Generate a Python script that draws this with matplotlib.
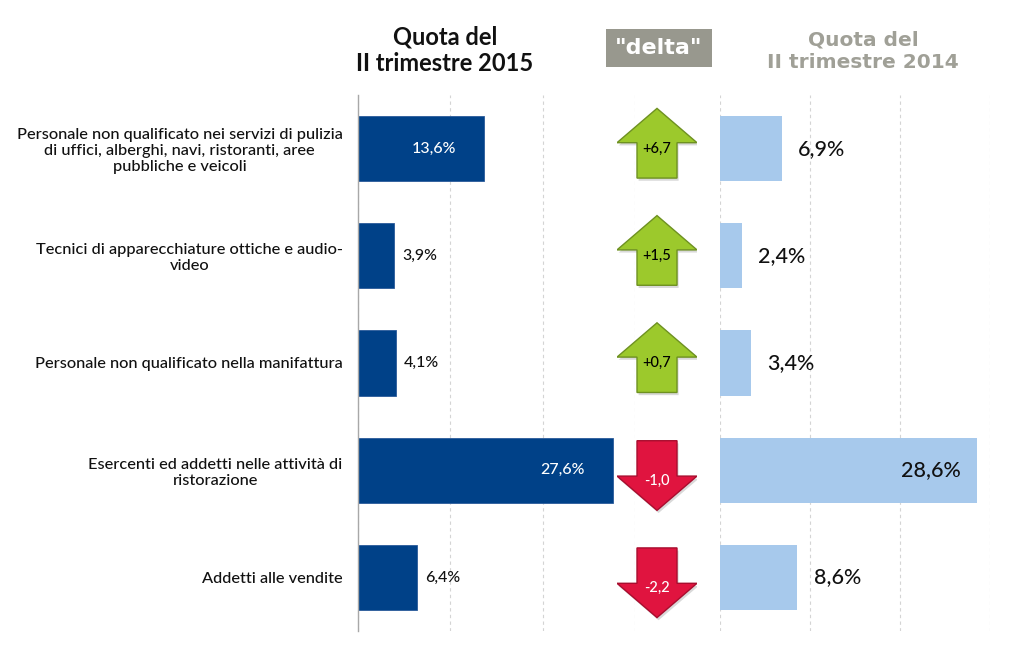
import matplotlib
matplotlib.use("Agg")
from matplotlib import pyplot as plt
from matplotlib.patches import Polygon

# dati
categorie = [
    "Personale non qualificato nei servizi di pulizia\ndi uffici, alberghi, navi, ristoranti, aree\npubbliche e veicoli",
    "Tecnici di apparecchiature ottiche e audio-\nvideo",
    "Personale non qualificato nella manifattura",
    "Esercenti ed addetti nelle attività di\nristorazione",
    "Addetti alle vendite",
]
quota_2015 = [13.6, 3.9, 4.1, 27.6, 6.4]
quota_2014 = [6.9, 2.4, 3.4, 28.6, 8.6]
titolo_2015 = "Quota del\nII trimestre 2015"
titolo_2014 = "Quota del\nII trimestre 2014"
titolo_delta = '"delta"'

BLU = "#004188"
AZZURRO = "#a7c9ec"
VERDE = "#9cc92c"
ROSSO = "#e0143f"
GRIGIO = "#98988e"
CAL = ["Lato", "DejaVu Sans"]


def fmt(v, segno=False):
    s = f"{v:+.1f}" if segno else f"{v:.1f}"
    return s.replace(".", ",")


W, H = 1016, 666
fig = plt.figure(figsize=(W / 100, H / 100), dpi=100)

y_top, y_bot = 95, 631
b = (H - y_bot) / H
h = (y_bot - y_top) / H
ax1 = fig.add_axes([358 / W, b, (635 - 358) / W, h])
ax2 = fig.add_axes([720 / W, b, (990 - 720) / W, h])
axm = fig.add_axes([617 / W, b, (697 - 617) / W, h])

pos = list(range(len(categorie)))

for ax in (ax1, ax2):
    ax.set_xlim(0, 30)
    ax.set_ylim(len(categorie) - 0.5, -0.5)
    ax.set_xticks([0, 10, 20, 30])
    ax.grid(axis="x", color="#d4d4d4", linestyle=(0, (3, 3)), linewidth=0.8)
    ax.set_axisbelow(True)
    for s in ax.spines.values():
        s.set_visible(False)
    ax.tick_params(axis="x", length=0, labelbottom=False)

ax1.spines["left"].set_visible(True)
ax1.spines["left"].set_color("#a8a8a8")
ax1.spines["left"].set_linewidth(1.0)

# pannello sinistro: 2015
ax1.barh(pos, quota_2015, height=0.61, color=BLU, edgecolor="#2a5a9a", linewidth=0.6)
ax1.set_yticks(pos)
ax1.set_yticklabels(categorie, fontsize=11.8, family=CAL, weight=500, color="#111111")
ax1.tick_params(axis="y", length=0, pad=11)
for t in ax1.get_yticklabels():
    t.set_multialignment("center")
    t.set_linespacing(1.2)

for i, v in enumerate(quota_2015):
    if v > 10:
        ax1.text(v - 3.0, i, fmt(v) + "%", ha="right", va="center",
                 color="white", fontsize=11.5, family=CAL, weight=500)
    else:
        ax1.text(v + 0.85, i, fmt(v) + "%", ha="left", va="center",
                 color="#111111", fontsize=11.5, family=CAL, weight=500)

# pannello destro: 2014
ax2.barh(pos, quota_2014, height=0.61, color=AZZURRO)
ax2.set_yticks([])
for i, v in enumerate(quota_2014):
    if v > 20:
        ax2.text(v - 1.9, i, fmt(v) + "%", ha="right", va="center",
                 color="#111111", fontsize=15.5, family=CAL, weight=500)
    else:
        ax2.text(v + 1.8, i, fmt(v) + "%", ha="left", va="center",
                 color="#111111", fontsize=15.5, family=CAL, weight=500)

# frecce delta
axm.set_xlim(-1, 1)
axm.set_ylim(len(categorie) - 0.5, -0.5)
axm.axis("off")
for i, (a, c) in enumerate(zip(quota_2015, quota_2014)):
    d = round(a - c, 1)
    sg = 1 if d >= 0 else -1
    cy = i - 0.05 * sg
    tip = cy - sg * 0.325
    base = tip + sg * 0.32
    fondo = cy + sg * 0.325
    pts = [(0, tip), (1, base), (0.5, base), (0.5, fondo),
           (-0.5, fondo), (-0.5, base), (-1, base)]
    col = VERDE if sg > 0 else ROSSO
    ec = "#6e9121" if sg > 0 else "#a80d2e"
    axm.add_patch(Polygon([(x + 0.04, y + 0.025) for x, y in pts], closed=True,
                          facecolor="#000000", alpha=0.15, edgecolor="none"))
    axm.add_patch(Polygon(pts, closed=True, facecolor=col, edgecolor=ec, linewidth=1.0))
    axm.text(0, cy + 0.05, fmt(d, segno=True), ha="center", va="center",
             fontsize=10.5, family=CAL, weight=500,
             color="black" if sg > 0 else "white")

# titoli
fig.text(445 / W, 1 - 50 / H, titolo_2015, ha="center", va="center",
         fontsize=17, family=CAL, weight="bold", color="#111111", linespacing=1.2)
fig.text(659 / W, 1 - 48 / H, titolo_delta, ha="center", va="center",
         fontsize=16, family="DejaVu Sans", weight="bold", color="white",
         bbox=dict(boxstyle="square,pad=0.42", facecolor=GRIGIO, edgecolor="none"))
fig.text(863 / W, 1 - 51 / H, titolo_2014, ha="center", va="center",
         fontsize=14.5, family="DejaVu Sans", weight="bold", color="#a0a097",
         linespacing=1.25)

fig.savefig("out.png", dpi=100)
